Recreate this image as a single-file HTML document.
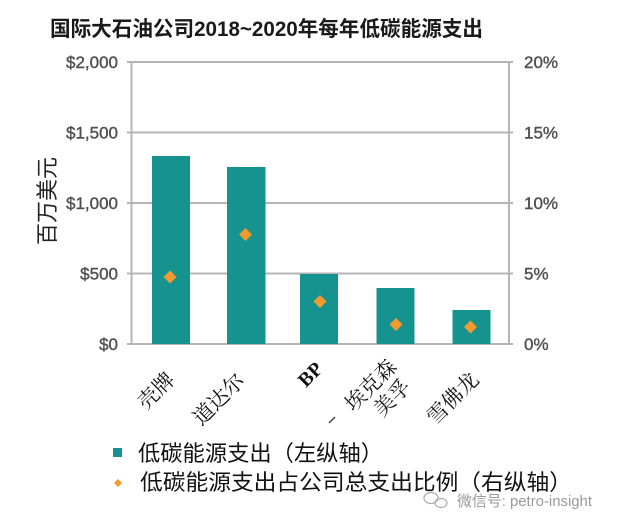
<!DOCTYPE html>
<html><head><meta charset="utf-8"><style>
html,body{margin:0;padding:0;background:#fff;}
svg{display:block;}
</style></head><body>
<svg width="631" height="526" viewBox="0 0 631 526" xmlns="http://www.w3.org/2000/svg">
<rect width="631" height="526" fill="#fff"/>
<!-- title -->
<text x="50" y="36" font-family="'Liberation Sans','Noto Sans CJK SC',sans-serif" font-size="21" font-weight="bold" fill="#1a1a1a" textLength="433" lengthAdjust="spacingAndGlyphs">国际大石油公司2018~2020年每年低碳能源支出</text>
<!-- gridlines -->
<g stroke="#b5b5b5" stroke-width="2" fill="none">
<line x1="127" y1="62" x2="513" y2="62"/>
<line x1="127" y1="132.5" x2="513" y2="132.5"/>
<line x1="127" y1="203" x2="513" y2="203"/>
<line x1="127" y1="273.5" x2="513" y2="273.5"/>
<line x1="127" y1="344" x2="513" y2="344"/>
<line x1="131.5" y1="62" x2="131.5" y2="344"/>
<line x1="509" y1="62" x2="509" y2="344"/>
</g>
<!-- bars -->
<g fill="#16938f">
<rect x="152" y="156" width="38" height="188"/>
<rect x="227" y="167" width="38.5" height="177"/>
<rect x="300" y="274" width="38" height="70"/>
<rect x="376.5" y="288" width="38" height="56"/>
<rect x="452.5" y="310" width="38" height="34"/>
</g>
<!-- diamonds -->
<g fill="#f29a2e">
<polygon points="170,270.5 176.5,277 170,283.5 163.5,277"/>
<polygon points="245.5,228 252,234.5 245.5,241 239,234.5"/>
<polygon points="320,295 326.5,301.5 320,308 313.5,301.5"/>
<polygon points="396,318 402.5,324.5 396,331 389.5,324.5"/>
<polygon points="470.5,320.5 477,327 470.5,333.5 464,327"/>
</g>
<!-- left labels -->
<g font-family="'Liberation Sans',sans-serif" font-size="17" fill="#505050" stroke="#505050" stroke-width="0.4" text-anchor="end">
<text x="118" y="68">$2,000</text>
<text x="118" y="138.5">$1,500</text>
<text x="118" y="209">$1,000</text>
<text x="118" y="279.5">$500</text>
<text x="118" y="350">$0</text>
</g>
<!-- right labels -->
<g font-family="'Liberation Sans',sans-serif" font-size="17" fill="#505050" stroke="#505050" stroke-width="0.4">
<text x="524" y="68">20%</text>
<text x="524" y="138.5">15%</text>
<text x="524" y="209">10%</text>
<text x="524" y="279.5">5%</text>
<text x="524" y="350">0%</text>
</g>
<!-- y axis title -->
<text transform="translate(55,201) rotate(-90)" text-anchor="middle" font-family="'Liberation Sans','Noto Sans CJK SC',sans-serif" font-size="22" fill="#222">百万美元</text>
<!-- x labels -->
<g font-family="'Liberation Serif','Noto Serif CJK SC',serif" font-size="21" fill="#111" text-anchor="end">
<text transform="translate(176,381) rotate(-45)">壳牌</text>
<text transform="translate(246,382) rotate(-45)">道达尔</text>
<text transform="translate(324,370) rotate(-45)" font-weight="bold" font-size="20">BP</text>
<text transform="translate(398,368) rotate(-45)">埃克森</text>
<text transform="translate(412,388) rotate(-45)">美孚</text>
<text transform="translate(480,381) rotate(-45)">雪佛龙</text>
</g>
<line x1="329" y1="423" x2="335" y2="417" stroke="#444" stroke-width="1.5"/>
<!-- legend -->
<rect x="113" y="448" width="9" height="9" fill="#16938f"/>
<text x="138" y="461" font-family="'Liberation Sans','Noto Sans CJK SC',sans-serif" font-size="22" fill="#111" textLength="245" lengthAdjust="spacingAndGlyphs">低碳能源支出（左纵轴）</text>
<polygon points="118,479 122,483 118,487 114,483" fill="#f29a2e"/>
<text x="140" y="490" font-family="'Liberation Sans','Noto Sans CJK SC',sans-serif" font-size="22" fill="#111" textLength="432" lengthAdjust="spacingAndGlyphs">低碳能源支出占公司总支出比例（右纵轴）</text>
<!-- watermark -->
<g fill="none" stroke="#aaa" stroke-width="1.2">
<ellipse cx="431" cy="498" rx="7" ry="5.5"/>
<ellipse cx="441" cy="503" rx="6" ry="4.5"/>
</g>
<text x="457" y="506" font-family="'Liberation Sans','Noto Sans CJK SC',sans-serif" font-size="15" fill="#9a9a9a" textLength="135" lengthAdjust="spacingAndGlyphs">微信号: petro-insight</text>
</svg>
</body></html>
